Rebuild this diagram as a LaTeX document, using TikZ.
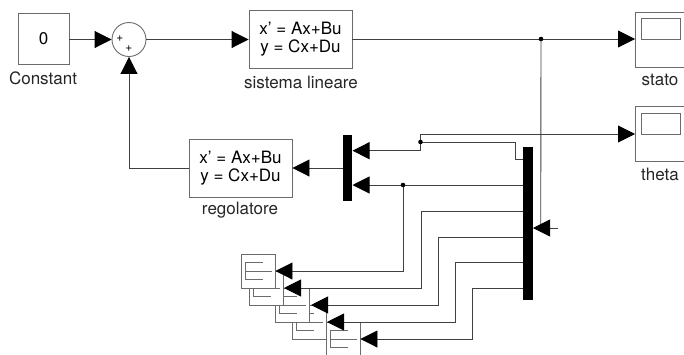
\documentclass[tikz,border=0pt]{standalone}
\usepackage{fontspec}
\setmainfont{TeX Gyre Heros}
\usetikzlibrary{arrows.meta,calc}
\definecolor{edge}{gray}{0.42}
\definecolor{wire}{gray}{0.25}
\tikzset{
  blockbox/.style={draw=edge,fill=white,line width=0.9pt,inner sep=0pt,rectangle,align=center,font=\fontsize{17}{17.5}\selectfont},
  lbl/.style={inner sep=0pt,font=\fontsize{17}{20}\selectfont,text=black!85},
  barblock/.style={fill=black,draw=none,inner sep=0pt,rectangle},
  wirepath/.style={draw=wire,line width=0.9pt},
  sig/.style={wirepath,-{Triangle[length=17pt,width=17pt,color=black,fill=black]}},
  dotnode/.style={circle,fill=black,draw=none,inner sep=0pt,minimum size=4.6pt},
  iconline/.style={draw=edge,line width=0.9pt},
}
\newcommand{\smallscope}[3]{%
  \node[blockbox,minimum width=34pt,minimum height=34pt] (#1) at (#2,#3) {};
  \draw[iconline] ($(#1.center)+(5,-9)$) -- ($(#1.center)+(-13,-9)$) -- ($(#1.center)+(-13,8)$) -- ($(#1.center)+(5,8)$)
    ($(#1.center)+(-13,0)$) -- ($(#1.center)+(14,0)$);
}
\begin{document}
\begin{tikzpicture}[x=1pt,y=-1pt]
\useasboundingbox (0,0) rectangle (684,354);
\clip (0,0) rectangle (684,354);
\fill[white] (0,0) rectangle (684,354);

% blocks
\node[blockbox,minimum width=51pt,minimum height=51pt] (const) at (43.5,38.5) {0};
\node[lbl] (constlbl) at (43,78) {Constant};
\node[circle,draw=edge,fill=white,line width=0.9pt,minimum size=34pt,inner sep=0pt] (sum) at (129,39.5) {};
\node[inner sep=0pt,font=\fontsize{12}{12}\selectfont] (plusa) at (120,39) {+};
\node[inner sep=0pt,font=\fontsize{12}{12}\selectfont] (plusb) at (129,48.5) {+};
\node[blockbox,minimum width=103pt,minimum height=58pt] (sys) at (300.5,39) {x' = Ax+Bu\\y = Cx+Du};
\node[lbl] (syslbl) at (301,82) {sistema lineare};
\node[blockbox,minimum width=103pt,minimum height=58pt] (reg) at (240.5,168) {x' = Ax+Bu\\y = Cx+Du};
\node[lbl] (reglbl) at (240,210) {regolatore};

\node[blockbox,minimum width=51pt,minimum height=55pt] (stato) at (660.5,39.5) {};
\node[draw=edge,line width=0.9pt,minimum width=39pt,minimum height=21pt,inner sep=0pt] (statoscr) at (660.5,28.5) {};
\node[lbl] (statolbl) at (660,80) {stato};
\node[blockbox,minimum width=51pt,minimum height=55pt] (theta) at (660.5,133.5) {};
\node[draw=edge,line width=0.9pt,minimum width=39pt,minimum height=21pt,inner sep=0pt] (thetascr) at (660.5,123.5) {};
\node[lbl] (thetalbl) at (660,174) {theta};

\node[barblock,minimum width=9.5pt,minimum height=66pt] (mux) at (347.5,168) {};
\node[barblock,minimum width=10pt,minimum height=153pt] (demux) at (528,223.5) {};

% small scopes, back to front
\smallscope{sE}{343}{339}
\smallscope{sD}{309}{322}
\smallscope{sC}{292}{305}
\smallscope{sB}{266}{288}
\smallscope{sA}{258}{271}

% junctions and bends
\coordinate (jOut) at (541,39);
\coordinate (jTheta) at (420.5,142);
\coordinate (cTheta) at (420.5,134);
\coordinate (cMuxA) at (420.5,150.7);
\coordinate (cDemA) at (515,142);
\coordinate (cDemB) at (515,159);
\coordinate (jMuxB) at (403,185);
\coordinate (demIn) at (558,228);
\coordinate (demTip) at (533,228);
\coordinate (thTip) at (635,134);
\coordinate (stTip) at (635,39);

% forward path
\draw[sig] (const.east |- sum.west) -- (sum.west);
\draw[sig] (sum.east) -- (sys.west |- sum.east);
\draw[sig] (sys.east) -- (stTip);
% feedback
\draw[sig] (mux.west) -- (reg.east);
\draw[sig] (reg.west) -| (sum.south);
% state to demux
\draw[wirepath] (jOut) -- (540.7,228);
\draw[sig] (demIn) -- (demTip);
% demux outputs
\draw[sig] (cMuxA) -- (352.5,150.7);
\draw[wirepath] (jTheta) -- (cMuxA);
\draw[wirepath] (jTheta) -- (cDemA) -- (cDemB) -- (523,159);
\draw[wirepath] (jTheta) -- (cTheta);
\draw[sig] (cTheta) -- (thTip);
\draw[sig] (523,185) -- (352.5,185);
\draw[sig] (jMuxB) |- (sA.east);
\draw[sig] (523,211) -| (421,288) -- (284,288);
\draw[sig] (523,237) -| (438,305) -- (311,305);
\draw[sig] (523,262) -| (455,322) -- (327,322);
\draw[sig] (523,288) -| (472,339) -- (sE.east);

\node[dotnode] (d1) at (jOut) {};
\node[dotnode] (d2) at (jTheta) {};
\node[dotnode] (d3) at (jMuxB) {};
\end{tikzpicture}
\end{document}
